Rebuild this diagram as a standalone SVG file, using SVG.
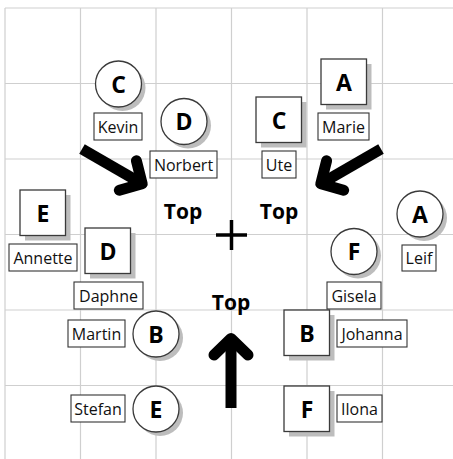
<svg xmlns="http://www.w3.org/2000/svg" width="453" height="459" viewBox="0 0 453 459">
<defs>
<style>
.grid line{stroke:#cfcfcf;stroke-width:1.2}
.sh{fill:#bdbdbd}
.node{fill:#fff;stroke:#3a3a3a;stroke-width:1.3}
.lbl{fill:#fff;stroke:#333;stroke-width:1.1}
.lt{font-family:"Open Sans","Liberation Sans",sans-serif;font-size:16px;fill:#111;text-anchor:middle}
.nt{font-family:"Open Sans","Liberation Sans",sans-serif;font-size:23px;font-weight:bold;fill:#000;text-anchor:middle}
.top{font-family:"Open Sans","Liberation Sans",sans-serif;font-size:21px;font-weight:bold;fill:#000;text-anchor:middle}
.shaft{stroke:#000;stroke-width:11;fill:none}
.head{stroke:#000;stroke-width:11;fill:none;stroke-linecap:round;stroke-linejoin:round}
</style>
<g id="arrow">
<line class="shaft" x1="0" y1="0" x2="0" y2="-66"/>
<polyline class="head" points="-17,-53 0,-69.5 17,-53"/>
</g>
</defs>
<rect width="453" height="459" fill="#fff"/>
<g class="grid">
<line x1="5" y1="8" x2="5" y2="459"/>
<line x1="80.5" y1="8" x2="80.5" y2="459"/>
<line x1="156" y1="8" x2="156" y2="459"/>
<line x1="231.5" y1="8" x2="231.5" y2="459"/>
<line x1="307" y1="8" x2="307" y2="459"/>
<line x1="382.5" y1="8" x2="382.5" y2="459"/>
<line x1="5" y1="8" x2="453" y2="8"/>
<line x1="5" y1="83.5" x2="453" y2="83.5"/>
<line x1="5" y1="159" x2="453" y2="159"/>
<line x1="5" y1="234.5" x2="453" y2="234.5"/>
<line x1="5" y1="310" x2="453" y2="310"/>
<line x1="5" y1="385.5" x2="453" y2="385.5"/>
</g>
<g id="connectors">
<use href="#arrow" transform="translate(82,149) rotate(120)"/>
<use href="#arrow" transform="translate(381,149) rotate(-120)"/>
<use href="#arrow" transform="translate(231,408)"/>
</g>
<g id="center">
<line x1="216" y1="235" x2="247" y2="235" stroke="#000" stroke-width="3.5"/>
<line x1="231.5" y1="220" x2="231.5" y2="250" stroke="#000" stroke-width="3.5"/>
<text class="top" x="183" y="219">Top</text>
<text class="top" x="279" y="219">Top</text>
<text class="top" x="231" y="310">Top</text>
</g>
<g id="n-kevin">
<circle class="sh" cx="122.5" cy="88" r="23"/>
<circle class="node" cx="118.5" cy="84" r="23"/>
<text class="nt" x="118.5" y="92.5">C</text>
<rect class="lbl" x="94" y="113" width="48" height="27"/>
<text class="lt" x="118" y="132.5">Kevin</text>
</g>
<g id="n-norbert">
<circle class="sh" cx="188" cy="125.5" r="23"/>
<circle class="node" cx="184" cy="121.5" r="23"/>
<text class="nt" x="184" y="130">D</text>
<rect class="lbl" x="150" y="151" width="67" height="27"/>
<text class="lt" x="183.5" y="170.5">Norbert</text>
</g>
<g id="n-marie">
<rect class="sh" x="326" y="64" width="45.5" height="45.5"/>
<rect class="node" x="321" y="59" width="45.5" height="45.5"/>
<text class="nt" x="344" y="90.5">A</text>
<rect class="lbl" x="318" y="113" width="51" height="27"/>
<text class="lt" x="343.5" y="132.5">Marie</text>
</g>
<g id="n-ute">
<rect class="sh" x="261" y="102" width="45.5" height="45.5"/>
<rect class="node" x="256" y="97" width="45.5" height="45.5"/>
<text class="nt" x="279" y="128.5">C</text>
<rect class="lbl" x="262" y="151" width="34" height="27"/>
<text class="lt" x="279" y="170.5">Ute</text>
</g>
<g id="n-annette">
<rect class="sh" x="25" y="195" width="45.5" height="45.5"/>
<rect class="node" x="20" y="190" width="45.5" height="45.5"/>
<text class="nt" x="43" y="221.5">E</text>
<rect class="lbl" x="9" y="244" width="68" height="27"/>
<text class="lt" x="43" y="263.5">Annette</text>
</g>
<g id="n-leif">
<circle class="sh" cx="424" cy="218" r="23"/>
<circle class="node" cx="420" cy="214" r="23"/>
<text class="nt" x="420" y="222.5">A</text>
<rect class="lbl" x="402" y="245" width="34" height="26"/>
<text class="lt" x="419" y="264">Leif</text>
</g>
<g id="n-daphne">
<rect class="sh" x="90" y="233" width="45.5" height="45.5"/>
<rect class="node" x="85" y="228" width="45.5" height="45.5"/>
<text class="nt" x="108" y="259.5">D</text>
<rect class="lbl" x="74" y="282" width="69" height="27"/>
<text class="lt" x="108.5" y="301.5">Daphne</text>
</g>
<g id="n-gisela">
<circle class="sh" cx="358" cy="255.5" r="23"/>
<circle class="node" cx="354" cy="251.5" r="23"/>
<text class="nt" x="354" y="260">F</text>
<rect class="lbl" x="327" y="282" width="54" height="27"/>
<text class="lt" x="354" y="301.5">Gisela</text>
</g>
<g id="n-martin">
<circle class="sh" cx="160" cy="338" r="23"/>
<circle class="node" cx="156" cy="334" r="23"/>
<text class="nt" x="156" y="342.5">B</text>
<rect class="lbl" x="68" y="320" width="57" height="27"/>
<text class="lt" x="96.5" y="339.5">Martin</text>
</g>
<g id="n-johanna">
<rect class="sh" x="289" y="315" width="45.5" height="45.5"/>
<rect class="node" x="284" y="310" width="45.5" height="45.5"/>
<text class="nt" x="307" y="341.5">B</text>
<rect class="lbl" x="337" y="320" width="70" height="27"/>
<text class="lt" x="372" y="339.5">Johanna</text>
</g>
<g id="n-stefan">
<circle class="sh" cx="160" cy="413" r="23"/>
<circle class="node" cx="156" cy="409" r="23"/>
<text class="nt" x="156" y="417.5">E</text>
<rect class="lbl" x="71" y="395" width="54" height="27"/>
<text class="lt" x="98" y="414.5">Stefan</text>
</g>
<g id="n-ilona">
<rect class="sh" x="289" y="391" width="45.5" height="45.5"/>
<rect class="node" x="284" y="386" width="45.5" height="45.5"/>
<text class="nt" x="307" y="417.5">F</text>
<rect class="lbl" x="337" y="395" width="45" height="27"/>
<text class="lt" x="359.5" y="414.5">Ilona</text>
</g>
</svg>
